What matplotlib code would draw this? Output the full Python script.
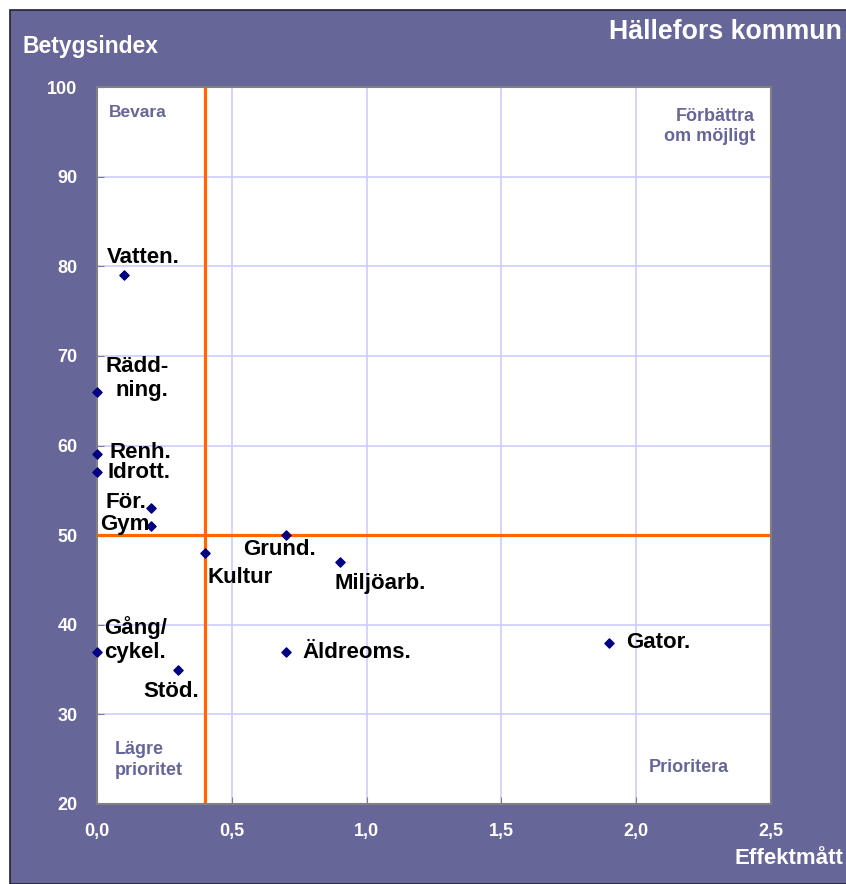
import matplotlib
matplotlib.use('Agg')
import matplotlib.pyplot as plt
from matplotlib.patches import Rectangle

plt.rcParams['font.family'] = ['Liberation Sans', 'DejaVu Sans']

# data
labels = ['Vatten.', 'Rädd-\nning.', 'Renh.', 'Idrott.', 'För.', 'Gym',
          'Kultur', 'Grund.', 'Miljöarb.', 'Gång/\ncykel.', 'Stöd.',
          'Äldreoms.', 'Gator.']
effekt = [0.1, 0.0, 0.0, 0.0, 0.2, 0.2, 0.4, 0.7, 0.9, 0.0, 0.3, 0.7, 1.9]
betyg = [79, 66, 59, 57, 53, 51, 48, 50, 47, 37, 35, 37, 38]
# label offsets in pixels (dx, dy) and alignment
offsets = [(-17, 18, 'left'), (8, 13, 'right'), (12, 2, 'left'), (10, 0, 'left'),
           (-45, 6, 'left'), (-51, 2, 'left'), (3, -24, 'left'), (-43, -14, 'left'),
           (-5, -21, 'left'), (7, 12, 'left'), (-35, -22, 'left'),
           (17, -1, 'left'), (17, 0, 'left')]
xticks = [0.0, 0.5, 1.0, 1.5, 2.0, 2.5]
yticks = [20, 30, 40, 50, 60, 70, 80, 90, 100]
x_split, y_split = 0.4, 50

bg = '#666699'
quad = '#666699'

fig = plt.figure(figsize=(8.46, 8.84), dpi=100)
fig.patch.set_facecolor('white')
fig.patches.append(Rectangle((10/846, 0), 1, 1 - 10/884, transform=fig.transFigure,
                             facecolor=bg, edgecolor='#222233', lw=1.2, zorder=-10))

ax = fig.add_axes([97/846, 1 - 804/884, (771-97)/846, (804-87)/884])
ax.set_facecolor('white')
ax.set_xlim(0, 2.5)
ax.set_ylim(20, 100)
ax.set_xticks(xticks)
ax.set_yticks(yticks)
ax.set_xticklabels([f'{v:.1f}'.replace('.', ',') for v in xticks])
ax.set_yticklabels([str(v) for v in yticks])
ax.tick_params(direction='in', length=5, color='#808080', labelcolor='white',
               labelsize=13)
ax.tick_params(axis='y', pad=14)
ax.tick_params(axis='x', pad=14)
for lab in ax.get_xticklabels() + ax.get_yticklabels():
    lab.set_fontweight('bold')
ax.grid(True, color='#CCCCFF', lw=1.2)
ax.set_axisbelow(True)
for s in ax.spines.values():
    s.set_color('#808080')
    s.set_linewidth(1.5)

ax.axvline(x_split, color='#FF6600', lw=2.3, zorder=2)
ax.axhline(y_split, color='#FF6600', lw=2.3, zorder=2)

ax.scatter(effekt, betyg, marker='D', s=22, color='#000080', zorder=4, clip_on=False)

for lab, x, y, (dx, dy, ma) in zip(labels, effekt, betyg, offsets):
    ax.annotate(lab, (x, y), xytext=(dx * 0.72, dy * 0.72), textcoords='offset points',
                ha='left', va='center', fontsize=16, fontweight='bold', color='black',
                multialignment=ma, linespacing=1.2, zorder=5)

# quadrant texts
ax.text(0.152, 97.1, 'Bevara', ha='center', va='center', fontsize=12.5,
        fontweight='bold', color=quad)
ax.text(2.44, 95.6, 'Förbättra\nom möjligt', ha='right', va='center', fontsize=13,
        fontweight='bold', color=quad, multialignment='right', linespacing=1.25)
ax.text(0.067, 24.9, 'Lägre\nprioritet', ha='left', va='center', fontsize=13,
        fontweight='bold', color=quad, linespacing=1.25)
ax.text(2.196, 24.1, 'Prioritera', ha='center', va='center', fontsize=13,
        fontweight='bold', color=quad)

fig.text(22/846, 1 - 46/884, 'Betygsindex', ha='left', va='center', fontsize=16.5,
         fontweight='bold', color='white')
fig.text(842/846, 1 - 32/884, 'Hällefors kommun', ha='right', va='center',
         fontsize=19.3, fontweight='bold', color='white')
fig.text(843/846, 1 - 858/884, 'Effektmått', ha='right', va='center', fontsize=16,
         fontweight='bold', color='white')

fig.savefig('out.png', dpi=100)
